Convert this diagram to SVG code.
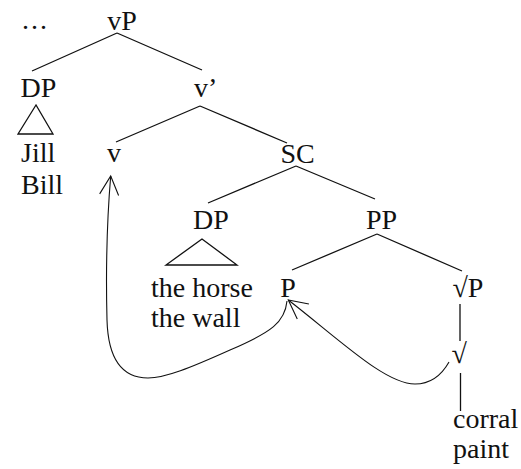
<svg xmlns="http://www.w3.org/2000/svg" width="521" height="469" viewBox="0 0 521 469">
<style>
.t{font-family:'Liberation Serif','Times New Roman',serif;font-size:28px;fill:#111}
.e{stroke:#111;stroke-width:1.3;fill:none}
.m{text-anchor:middle}
.mv{stroke:#111;stroke-width:1.1;fill:none}
</style>
<defs>
<marker id="ah" markerUnits="userSpaceOnUse" markerWidth="40" markerHeight="40" viewBox="-20 -20 40 40" refX="0" refY="0" orient="auto" overflow="visible">
<path d="M -18.7,-9.5 L 0,0 L -18.7,9.5" fill="none" stroke="#111" stroke-width="1.1"/>
</marker>
</defs>
<rect width="521" height="469" fill="#fff"/>
<g id="edges">
<path class="e" d="M117,33 L32,71 M117,33 L202,70"/>
<path class="e" d="M200,106 L116,142 M200,106 L287,143"/>
<path class="e" d="M296,166 L208,203 M296,166 L375,199"/>
<path class="e" d="M377,234 L292,270 M377,234 L462,271"/>
<path class="e" d="M460,304 L460,341 M460.5,373 L460.5,411"/>
<path class="e" d="M36,105 L18,134 L53,134 Z"/>
<path class="e" d="M202,239 L166,265 L237,265 Z"/>
</g>
<g id="movements">
<path class="mv" d="M287,301 C285,322 272,332 230,350 C190,368 165,378 148,378 C120,378 108,355 107,320 C106,280 107,220 110.7,176" marker-end="url(#ah)"/>
<path class="mv" d="M449,362 C440,378 428,384 415,384 C385,384 340,340 288.3,300" marker-end="url(#ah)"/>
</g>
<g id="dots"><text class="t" x="22" y="29" letter-spacing="2">...</text></g>
<g id="vP"><text class="t m" x="122" y="30">vP</text></g>
<g id="DP1"><text class="t m" x="38.5" y="97">DP</text></g>
<g id="vbar"><text class="t" x="194" y="97">v’</text></g>
<g id="Jill"><text class="t" x="21" y="162">Jill</text><text class="t" x="21" y="194">Bill</text></g>
<g id="v"><text class="t m" x="114" y="162">v</text></g>
<g id="SC"><text class="t m" x="297.5" y="163">SC</text></g>
<g id="DP2"><text class="t m" x="211" y="229">DP</text></g>
<g id="PP"><text class="t m" x="381.5" y="229">PP</text></g>
<g id="horse"><text class="t" x="151" y="297">the horse</text><text class="t" x="151" y="327">the wall</text></g>
<g id="P"><text class="t m" x="288" y="297">P</text></g>
<g id="rootP"><text class="t" x="452.5" y="297">√P</text></g>
<g id="root"><text class="t" x="451.5" y="363">√</text></g>
<g id="corral"><text class="t" x="453" y="428">corral</text><text class="t" x="453" y="458">paint</text></g>
</svg>
